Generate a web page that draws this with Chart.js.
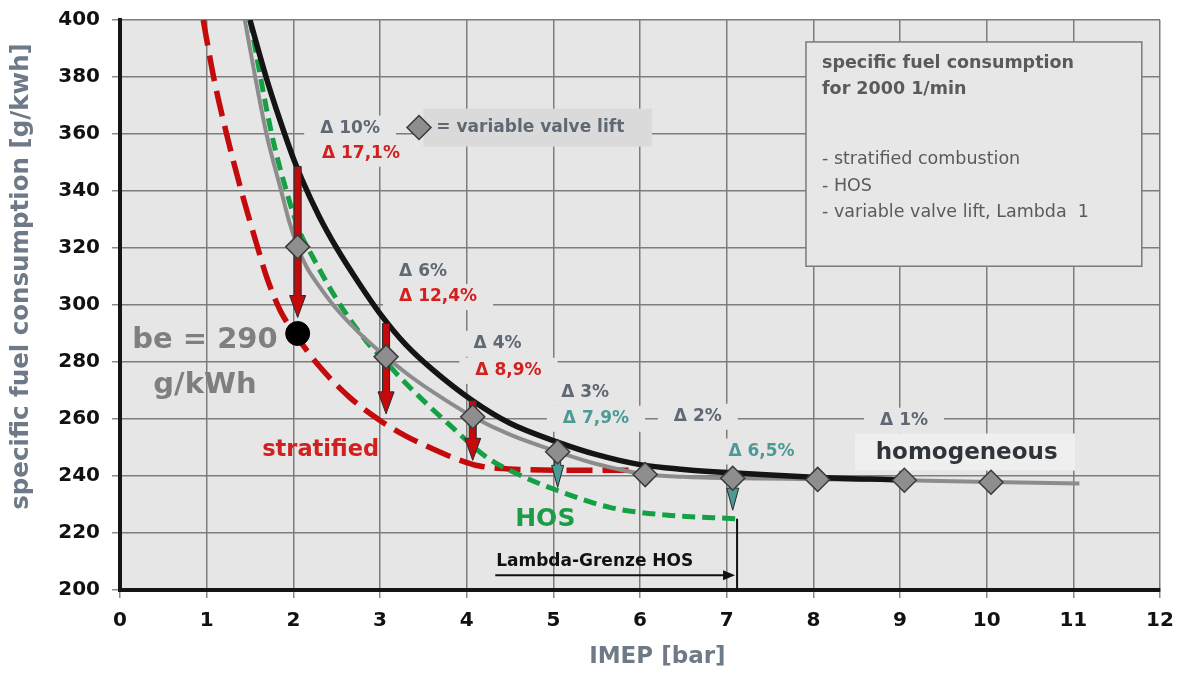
<!DOCTYPE html>
<html>
<head>
<meta charset="utf-8">
<script src="https://cdn.jsdelivr.net/npm/chart.js@4.4.0/dist/chart.umd.min.js"></script>
<style>
  html, body { margin: 0; padding: 0; background: #fff; }
  #wrap { width: 1181px; height: 675px; position: relative; }
</style>
</head>
<body>
<div id="wrap"><canvas id="sfcChart"></canvas></div>
<script>
// homogeneous (black)
var homX = [1.5, 1.6, 1.7, 1.8, 1.9, 2.0, 2.1, 2.3, 2.5, 2.75, 3.0, 3.3, 3.6, 4.07, 4.5, 5.04, 5.5, 6.0, 6.5, 7.0, 8.0, 9.0];
var homY = [400, 389, 378.5, 369, 360, 351.5, 344, 331, 320, 308, 297, 286, 277.5, 266.4, 258.5, 252, 247.5, 244, 242.3, 241.2, 239.6, 238.6];

// variable valve lift line (grey)
var vvlLineX = [1.44, 1.56, 1.69, 1.86, 1.95, 2.05, 2.15, 2.3, 2.46, 2.75, 3.07, 3.35, 3.61, 4.06, 4.5, 5.05, 5.5, 6.06, 6.5, 7.07, 8.05, 9.05, 10.05, 11.07];
var vvlLineY = [400, 380, 360, 340, 329.5, 320.4, 313.5, 306.5, 300, 290.5, 281.8, 275, 269.5, 261, 254.5, 248.5, 244.2, 240.6, 239.7, 239.2, 238.9, 238.5, 237.9, 237.4];

// variable valve lift points (diamonds)
var vvlX = [2.05, 3.07, 4.07, 5.05, 6.06, 7.07, 8.05, 9.05, 10.05];
var vvlY = [320.4, 281.8, 260.8, 248.5, 240.5, 239.2, 238.8, 238.5, 237.8];

// HOS (green dashed)
var hosX = [1.5, 1.75, 1.92, 2.07, 2.23, 2.5, 2.85, 3.07, 3.23, 3.54, 3.8, 4.23, 4.6, 5.04, 5.65, 6.3, 7.12];
var hosY = [400, 360, 340, 326, 316.5, 302, 287, 280, 274.6, 265.3, 258, 246.6, 240.5, 235, 229, 226.3, 225];

// stratified (red dashed)
var stratX = [0.96, 1.08, 1.23, 1.4, 1.59, 1.69, 1.85, 2.05, 2.3, 2.65, 3.0, 3.3, 3.61, 3.9, 4.15, 4.6, 5.3, 5.9];
var stratY = [400, 380, 360, 340, 320, 310, 298, 288.5, 278.5, 267.6, 259.5, 254, 249.5, 245.8, 243.5, 242.3, 242, 242];

// be = 290 point
var beX = [2.05];
var beY = [290];

// improvement arrows
var arrowX = [2.05, 3.07, 4.07, 5.05, 7.07];
var arrowFrom = [348.6, 293.5, 266.4, 248.5, 239.2];
var arrowTo = [295.6, 261.8, 245.5, 236, 228];
var arrowKind = ['red', 'red', 'red', 'teal', 'teal'];

// lambda limit HOS
var lambdaX = 7.12;
var lambdaFromX = 4.33;
var lambdaY = 205.2;

var fam = "'DejaVu Sans', 'Liberation Sans', sans-serif";
var cGrey = '#5f6873', cRed = '#d21f1f', cTeal = '#4b9a96';
var plotColor = '#e6e6e6';

var notes = [
  {t: 'Δ 10%', x: 2.31, y: 361.9, c: cGrey},
  {t: 'Δ 17,1%', x: 2.33, y: 353.1, c: cRed},
  {t: 'Δ 6%', x: 3.22, y: 311.9, c: cGrey},
  {t: 'Δ 12,4%', x: 3.22, y: 302.8, c: cRed},
  {t: 'Δ 4%', x: 4.08, y: 286.4, c: cGrey},
  {t: 'Δ 8,9%', x: 4.10, y: 276.9, c: cRed},
  {t: 'Δ 3%', x: 5.09, y: 269.2, c: cGrey},
  {t: 'Δ 7,9%', x: 5.11, y: 260.1, c: cTeal},
  {t: 'Δ 2%', x: 6.39, y: 260.8, c: cGrey},
  {t: 'Δ 6,5%', x: 7.02, y: 248.6, c: cTeal},
  {t: 'Δ 1%', x: 8.77, y: 259.4, c: cGrey}
];

function xy(chart, x, y) {
  return [chart.scales.x.getPixelForValue(x), chart.scales.y.getPixelForValue(y)];
}

function diamond(ctx, x, y, r) {
  ctx.beginPath();
  ctx.moveTo(x, y - r); ctx.lineTo(x + r, y); ctx.lineTo(x, y + r); ctx.lineTo(x - r, y);
  ctx.closePath();
  ctx.fillStyle = '#8e8e8e'; ctx.fill();
  ctx.strokeStyle = '#3a3a3a'; ctx.lineWidth = 1.5; ctx.stroke();
}

function vArrow(ctx, x, yTop, yTip, kind) {
  var sw = kind == 'red' ? 3.5 : 3, hw = kind == 'red' ? 8 : 6, hl = 22;
  var yHead = Math.max(yTop, yTip - hl);
  ctx.beginPath();
  ctx.moveTo(x - sw, yTop); ctx.lineTo(x + sw, yTop);
  ctx.lineTo(x + sw, yHead); ctx.lineTo(x + hw, yHead);
  ctx.lineTo(x, yTip); ctx.lineTo(x - hw, yHead);
  ctx.lineTo(x - sw, yHead);
  ctx.closePath();
  ctx.fillStyle = kind == 'red' ? '#c40a0a' : cTeal;
  ctx.fill();
  ctx.strokeStyle = '#2a2a2a'; ctx.lineWidth = 1; ctx.stroke();
}

var plotBg = {
  id: 'plotBg',
  beforeDraw: function(chart) {
    var a = chart.chartArea, ctx = chart.ctx;
    ctx.save();
    ctx.fillStyle = plotColor;
    ctx.fillRect(a.left, a.top, a.right - a.left, a.bottom - a.top);
    ctx.restore();
  }
};

var annots = {
  id: 'annots',
  beforeDatasetsDraw: function(chart) {
    var ctx = chart.ctx, p, p2;
    ctx.save();
    ctx.textBaseline = 'middle';
    ctx.textAlign = 'left';

    // info box
    p = xy(chart, 7.915, 392.3); p2 = xy(chart, 11.79, 313.6);
    ctx.fillStyle = '#e7e7e7';
    ctx.fillRect(p[0], p[1], p2[0] - p[0], p2[1] - p[1]);
    ctx.strokeStyle = '#7a7a7a'; ctx.lineWidth = 1.5;
    ctx.strokeRect(p[0], p[1], p2[0] - p[0], p2[1] - p[1]);
    ctx.fillStyle = '#5a5a5a';
    ctx.font = 'bold 17.5px ' + fam;
    p = xy(chart, 8.1, 384.6); ctx.fillText('specific fuel consumption', p[0], p[1]);
    p = xy(chart, 8.1, 375.8); ctx.fillText('for 2000 1/min', p[0], p[1]);
    ctx.font = '17.5px ' + fam;
    p = xy(chart, 8.1, 351.0); ctx.fillText('- stratified combustion', p[0], p[1]);
    p = xy(chart, 8.1, 341.7); ctx.fillText('- HOS', p[0], p[1]);
    p = xy(chart, 8.1, 332.6); ctx.fillText('- variable valve lift, Lambda  1', p[0], p[1]);

    // legend box for diamonds
    p = xy(chart, 3.5, 368.9); p2 = xy(chart, 6.14, 355.6);
    ctx.fillStyle = '#dadada';
    ctx.fillRect(p[0], p[1], p2[0] - p[0], p2[1] - p[1]);
    ctx.fillStyle = cGrey;
    ctx.font = 'bold 17px ' + fam;
    p = xy(chart, 3.65, 362.3); ctx.fillText('= variable valve lift', p[0], p[1]);

    // delta labels on patches
    ctx.font = 'bold 17px ' + fam;
    notes.forEach(function(n) {
      var q = xy(chart, n.x, n.y);
      var w = ctx.measureText(n.t).width;
      ctx.fillStyle = plotColor;
      ctx.fillRect(q[0] - 16, q[1] - 13, w + 32, 26);
    });
    notes.forEach(function(n) {
      var q = xy(chart, n.x, n.y);
      ctx.fillStyle = n.c;
      ctx.fillText(n.t, q[0], q[1]);
    });

    // homogeneous label
    p = xy(chart, 8.48, 254.9); p2 = xy(chart, 11.02, 241.9);
    ctx.fillStyle = '#efefef';
    ctx.fillRect(p[0], p[1], p2[0] - p[0], p2[1] - p[1]);
    ctx.font = 'bold 23px ' + fam;
    ctx.fillStyle = '#2f343b';
    p = xy(chart, 8.72, 247.9); ctx.fillText('homogeneous', p[0], p[1]);

    ctx.fillStyle = cRed;
    ctx.font = 'bold 22.5px ' + fam;
    p = xy(chart, 1.64, 249.2); ctx.fillText('stratified', p[0], p[1]);

    ctx.fillStyle = '#1c9c46';
    ctx.font = 'bold 25px ' + fam;
    p = xy(chart, 4.56, 224.8); ctx.fillText('HOS', p[0], p[1]);

    ctx.fillStyle = '#7f7f7f';
    ctx.font = 'bold 29px ' + fam;
    ctx.textAlign = 'center';
    p = xy(chart, 0.98, 287.4); ctx.fillText('be = 290', p[0], p[1]);
    p = xy(chart, 0.98, 271.7); ctx.fillText('g/kWh', p[0], p[1]);
    ctx.textAlign = 'left';

    // lambda limit
    ctx.fillStyle = '#111';
    ctx.font = 'bold 17px ' + fam;
    p = xy(chart, 4.34, 209.8); ctx.fillText('Lambda-Grenze HOS', p[0], p[1]);
    p = xy(chart, lambdaFromX, lambdaY); p2 = xy(chart, lambdaX, lambdaY);
    ctx.strokeStyle = '#111'; ctx.lineWidth = 2;
    ctx.beginPath(); ctx.moveTo(p[0], p[1]); ctx.lineTo(p2[0] - 12, p2[1]); ctx.stroke();
    ctx.beginPath();
    ctx.moveTo(p2[0] - 2, p2[1]); ctx.lineTo(p2[0] - 14, p2[1] - 5); ctx.lineTo(p2[0] - 14, p2[1] + 5);
    ctx.closePath(); ctx.fill();
    p = xy(chart, lambdaX, 225); p2 = xy(chart, lambdaX, 200);
    ctx.beginPath(); ctx.moveTo(p[0], p[1]); ctx.lineTo(p2[0], p2[1]); ctx.stroke();
    ctx.restore();
  },
  afterDatasetDraw: function(chart, args) {
    if (args.index !== 2) return;
    var ctx = chart.ctx;
    ctx.save();
    for (var i = 0; i < arrowX.length; i++) {
      var a = xy(chart, arrowX[i], arrowFrom[i]);
      var b = xy(chart, arrowX[i], arrowTo[i]);
      vArrow(ctx, a[0], a[1], b[1], arrowKind[i]);
    }
    ctx.restore();
  },
  afterDatasetsDraw: function(chart) {
    var ctx = chart.ctx;
    ctx.save();
    // legend diamond
    var p = xy(chart, 3.45, 362.3);
    diamond(ctx, p[0], p[1], 12);
    ctx.restore();
  },
  afterDraw: function(chart) {
    var ctx = chart.ctx;
    ctx.save();
    ctx.fillStyle = '#6e7a87';
    ctx.font = 'bold 24.5px ' + fam;
    ctx.textAlign = 'center';
    ctx.textBaseline = 'middle';
    ctx.translate(22, chart.scales.y.getPixelForValue(310));
    ctx.rotate(-Math.PI / 2);
    ctx.fillText('specific fuel consumption [g/kwh]', 0, 0);
    ctx.restore();
    ctx.save();
    ctx.fillStyle = '#6e7a87';
    ctx.font = 'bold 23px ' + fam;
    ctx.textAlign = 'center';
    ctx.textBaseline = 'middle';
    ctx.fillText('IMEP [bar]', chart.scales.x.getPixelForValue(6.2), 657);
    ctx.restore();
  }
};

function pts(xs, ys) {
  return xs.map(function(x, i) { return {x: x, y: ys[i]}; });
}

var tickFont = {family: fam, size: 20, weight: 'bold'};

new Chart(document.getElementById('sfcChart').getContext('2d'), {
  type: 'line',
  data: {
    datasets: [
      {label: 'be = 290 g/kWh', data: pts(beX, beY), showLine: false, pointStyle: 'circle',
       pointRadius: 12, pointBackgroundColor: '#000', pointBorderColor: '#000'},
      {label: 'variable valve lift', data: pts(vvlX, vvlY), showLine: false, pointStyle: 'rectRot',
       pointRadius: 12, pointBackgroundColor: '#8e8e8e', pointBorderColor: '#3a3a3a', pointBorderWidth: 1.5},
      {label: 'homogeneous', data: pts(homX, homY), borderColor: '#141414', borderWidth: 5.5,
       pointRadius: 0, cubicInterpolationMode: 'monotone'},
      {label: 'variable valve lift, Lambda 1', data: pts(vvlLineX, vvlLineY), borderColor: '#8c8c8c', borderWidth: 4,
       pointRadius: 0, cubicInterpolationMode: 'monotone'},
      {label: 'HOS', data: pts(hosX, hosY), borderColor: '#16a046', borderWidth: 5, borderDash: [13, 7],
       pointRadius: 0, cubicInterpolationMode: 'monotone'},
      {label: 'stratified', data: pts(stratX, stratY), borderColor: '#c40a0a', borderWidth: 5.5, borderDash: [26, 10],
       pointRadius: 0, cubicInterpolationMode: 'monotone'}
    ]
  },
  options: {
    responsive: true,
    maintainAspectRatio: false,
    animation: false,
    layout: {padding: {left: 0, top: 20, right: 21, bottom: 0}},
    plugins: {legend: {display: false}, tooltip: {enabled: false}},
    scales: {
      x: {
        type: 'linear', min: 0, max: 12,
        ticks: {stepSize: 1, color: '#111', font: tickFont, padding: 11},
        grid: {color: '#7d7d7d', lineWidth: 1.5, tickLength: 8, tickColor: '#8a8a8a'},
        border: {color: '#151515', width: 4},
        afterFit: function(s) { s.height = 85; s.paddingLeft = 0; s.paddingRight = 0; }
      },
      y: {
        type: 'linear', min: 200, max: 400,
        ticks: {stepSize: 20, color: '#111', font: tickFont, padding: 12},
        grid: {color: '#7d7d7d', lineWidth: 1.5, tickLength: 8, tickColor: '#8a8a8a'},
        border: {color: '#151515', width: 4},
        afterFit: function(s) { s.width = 120; s.paddingTop = 0; s.paddingBottom = 0; }
      }
    }
  },
  plugins: [plotBg, annots]
});
</script>
</body>
</html>
